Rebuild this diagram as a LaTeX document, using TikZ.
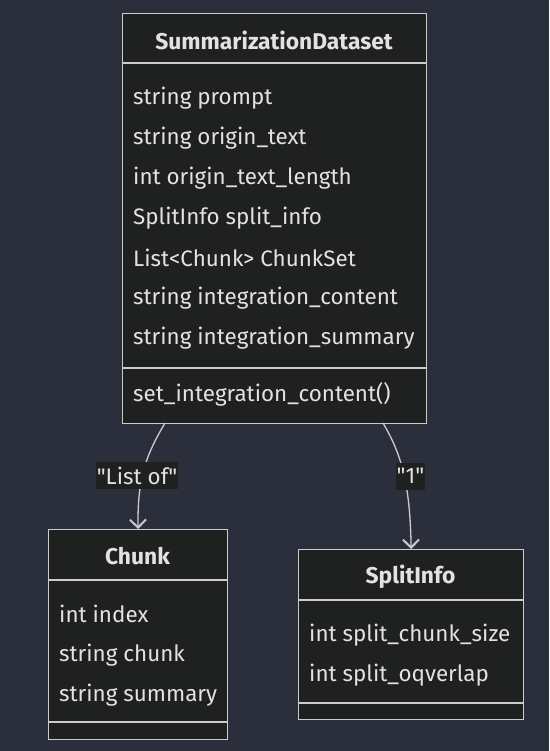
\documentclass[tikz,border=0pt]{standalone}
\usepackage{fontspec}
\setmainfont{Fira Sans}
\usetikzlibrary{arrows.meta}
\definecolor{bgc}{HTML}{2A2F3B}
\definecolor{boxc}{HTML}{1F2020}
\definecolor{linec}{HTML}{CCCCCC}
\definecolor{txtc}{HTML}{E2E2E2}
\tikzset{
  classbox/.style={draw=linec, line width=1.3pt, fill=boxc, rectangle, inner sep=0pt, anchor=north west},
  title/.style={text=txtc, font=\fontsize{22.8}{26}\selectfont\bfseries, anchor=center},
  attr/.style={text=txtc, font=\fontsize{22.4}{26}\selectfont, anchor=west, inner sep=0pt},
  sep/.style={draw=linec, line width=1.3pt},
  rel/.style={draw=linec, line width=1.3pt, -{Straight Barb[length=8pt,width=16pt,line width=2pt]}},
  lbl/.style={fill=boxc, text=txtc, font=\fontsize{22.4}{26}\selectfont, inner xsep=1pt, inner ysep=0pt, minimum height=27pt}
}
\begin{document}
\begin{tikzpicture}[x=1pt,y=-1pt]
\fill[bgc] (0,0) rectangle (549,751);
\useasboundingbox (0,0) rectangle (549,751);
% SummarizationDataset
\node[classbox, minimum width=304pt, minimum height=410pt] (sd) at (122,13) {};
\node[title] (sdt) at (274,40) {SummarizationDataset};
\draw[sep] ([yshift=-50pt]sd.north west) -- ([yshift=-50pt]sd.north east);
\node[attr] (a1) at (133,98) {string prompt};
\node[attr] (a2) at (133,138) {string origin\_text};
\node[attr] (a3) at (133,178) {int origin\_text\_length};
\node[attr] (a4) at (133,218) {SplitInfo split\_info};
\node[attr] (a5) at (133,258) {List<Chunk> ChunkSet};
\node[attr] (a6) at (133,298) {string integration\_content};
\node[attr] (a7) at (133,338) {string integration\_summary};
\draw[sep] ([yshift=-355pt]sd.north west) -- ([yshift=-355pt]sd.north east);
\node[attr] (m1) at (133,394) {set\_integration\_content()};
% Chunk
\node[classbox, minimum width=179pt, minimum height=210pt] (ch) at (48,529) {};
\node[title] (cht) at (137.5,556) {Chunk};
\draw[sep] ([yshift=-51pt]ch.north west) -- ([yshift=-51pt]ch.north east);
\node[attr] (c1) at (59,614) {int index};
\node[attr] (c2) at (59,655) {string chunk};
\node[attr] (c3) at (59,695) {string summary};
\draw[sep] ([yshift=-193pt]ch.north west) -- ([yshift=-193pt]ch.north east);
% SplitInfo
\node[classbox, minimum width=225pt, minimum height=170pt] (si) at (298,549) {};
\node[title] (sit) at (410.5,577) {SplitInfo};
\draw[sep] ([yshift=-51pt]si.north west) -- ([yshift=-51pt]si.north east);
\node[attr] (s1) at (309,635) {int split\_chunk\_size};
\node[attr] (s2) at (309,675) {int split\_oqverlap};
\draw[sep] ([yshift=-154pt]si.north west) -- ([yshift=-154pt]si.north east);
% relations
\coordinate (sdl) at (165,423);
\coordinate (sdr) at (383,423);
\draw[rel] (sdl) .. controls (148,452) and (137,475) .. (ch.north);
\draw[rel] (sdr) .. controls (400,452) and (410,480) .. (si.north);
\node[lbl] (l1) at (137,475.5) {\textquotedbl List of\textquotedbl};
\node[lbl] (l2) at (410.5,476) {\textquotedbl 1\textquotedbl};
\end{tikzpicture}
\end{document}
